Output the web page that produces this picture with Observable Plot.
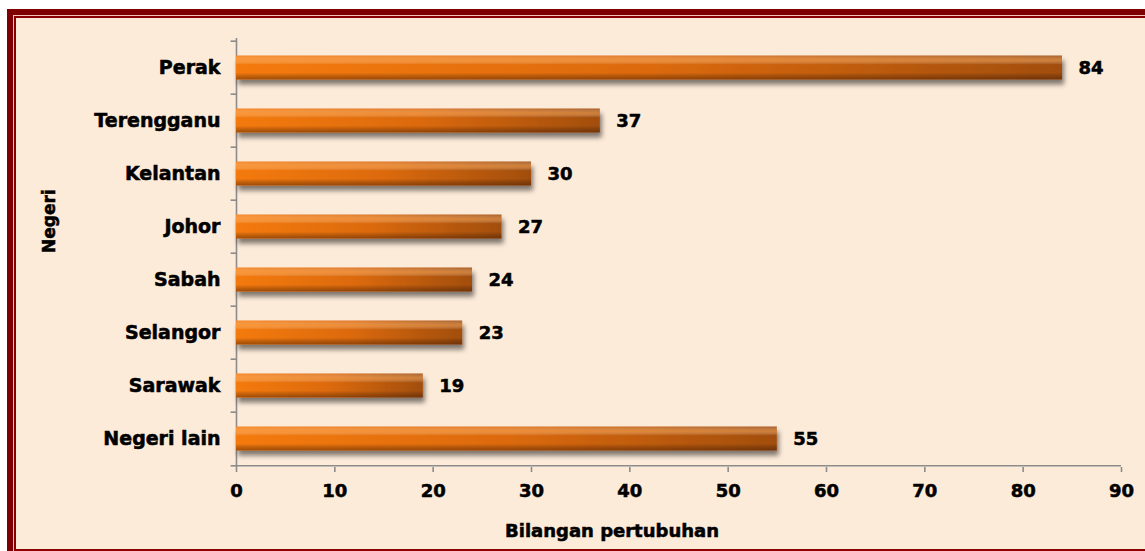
<!DOCTYPE html>
<html><head><meta charset="utf-8">
<script src="https://cdn.jsdelivr.net/npm/d3@7"></script>
<script src="https://cdn.jsdelivr.net/npm/@observablehq/plot@0.6"></script>
<style>
html,body{margin:0;padding:0;background:#fff;overflow:hidden;width:1145px;height:551px;}
.fr{position:absolute;}
#chart{position:absolute;left:0;top:0;}
g[aria-label="x-axis tick"]{stroke:#8C8C8C;stroke-width:1.6px;}
#chart text{stroke:#000;stroke-width:0.55px;paint-order:stroke;}
</style>
</head><body>
<div class="fr" style="left:7px;top:9px;width:1300px;height:600px;background:#7E0000"></div>
<div class="fr" style="left:13px;top:15px;width:1300px;height:600px;background:#F0C4B4"></div>
<div class="fr" style="left:14px;top:16px;width:1300px;height:535px;background:#8B0000"></div>
<div class="fr" style="left:16px;top:18px;width:1300px;height:531px;background:#FDEBD9"></div>
<div id="chart"></div>
<script>
const states = ["Perak","Terengganu","Kelantan","Johor","Sabah","Selangor","Sarawak","Negeri lain"];
const counts = [84,37,30,27,24,23,19,55];
const xTicks = [0,10,20,30,40,50,60,70,80,90];
const xTitle = "Bilangan pertubuhan";
const yTitle = "Negeri";

const data = states.map((s,i)=>({state:s, count:counts[i]}));
const W=1145, H=551, mt=38, mb=84, ml=236, mr=24;
const step = (H-mt-mb)/states.length;
const axisGray = "#8C8C8C";

const chart = Plot.plot({
  width:W, height:H, marginTop:mt, marginBottom:mb, marginLeft:ml, marginRight:mr,
  style:{background:"transparent", fontFamily:"DejaVu Sans", fontWeight:"bold", fontSize:"18px", color:"#000"},
  x:{domain:[0,90]},
  y:{domain:states, padding:0},
  marks:[
    Plot.ruleX([0], {stroke:axisGray, strokeWidth:1.6}),
    Plot.ruleY([states[states.length-1]], {dy:step/2, stroke:axisGray, strokeWidth:1.6}),
    Plot.ruleY(states, {x1:-0.55, x2:0, dy:-step/2, stroke:axisGray, strokeWidth:1.6}),
    Plot.ruleY([states[states.length-1]], {x1:-0.55, x2:0, dy:step/2, stroke:axisGray, strokeWidth:1.6}),
    Plot.axisX({ticks:xTicks, tickSize:5, tickPadding:12, label:null, tickFormat:d3.format("d"), fontSize:18}),
    Plot.axisY({tickSize:0, tickPadding:16, label:null, fontSize:19}),
    Plot.barX(data, {y:"state", x:"count", insetTop:14.5, insetBottom:14.5, fill:"url(#gH)"}),
    Plot.barX(data, {y:"state", x:"count", insetTop:14.5, insetBottom:14.5, fill:"url(#gV)"}),
    Plot.text(data, {y:"state", x:"count", text:d=>String(d.count), textAnchor:"start", dx:16, fontSize:18, fill:"#000"}),
    Plot.text([xTitle], {text:d=>d, frameAnchor:"bottom", lineAnchor:"middle", dy:64, dx:-67, fontSize:18, fill:"#000"}),
    Plot.text([yTitle], {text:d=>d, frameAnchor:"left", rotate:-90, dx:-187, fontSize:17, fill:"#000"})
  ]
});
document.getElementById("chart").appendChild(chart);
d3.select(chart).insert("defs", ":first-child").html(`
  <linearGradient id="gH" x1="0" y1="0" x2="1" y2="0">
    <stop offset="0" stop-color="#F47A10"/>
    <stop offset="0.5" stop-color="#DC6A0E"/>
    <stop offset="1" stop-color="#A24E0E"/>
  </linearGradient>
  <linearGradient id="gV" x1="0" y1="0" x2="0" y2="1">
    <stop offset="0" stop-color="#FFFFFF" stop-opacity="0.1"/>
    <stop offset="0.2" stop-color="#FFB060" stop-opacity="0.5"/>
    <stop offset="0.38" stop-color="#FFFFFF" stop-opacity="0"/>
    <stop offset="0.72" stop-color="#000000" stop-opacity="0"/>
    <stop offset="1" stop-color="#3A1500" stop-opacity="0.45"/>
  </linearGradient>
  <filter id="shadow" x="-5%" y="-60%" width="112%" height="280%">
    <feGaussianBlur in="SourceAlpha" stdDeviation="2.5"/>
    <feOffset dx="2" dy="5" result="b"/>
    <feComponentTransfer><feFuncA type="linear" slope="0.5"/></feComponentTransfer>
    <feMerge><feMergeNode/><feMergeNode in="SourceGraphic"/></feMerge>
  </filter>
`);
const barGroups = chart.querySelectorAll('g[aria-label="bar"]');
if (barGroups.length) d3.select(barGroups[0]).selectAll("rect").attr("filter", "url(#shadow)");
</script>
</body></html>
